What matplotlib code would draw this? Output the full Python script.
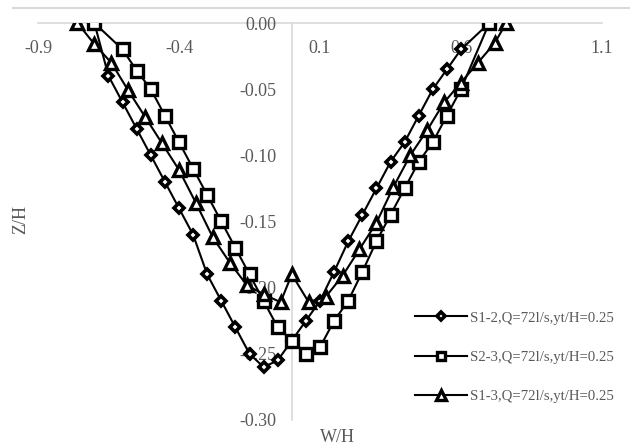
import matplotlib
matplotlib.use("Agg")
import matplotlib.pyplot as plt
from matplotlib.lines import Line2D

plt.rcParams['font.family'] = ['Liberation Serif', 'DejaVu Serif']

# Data
s12_x = [-0.70, -0.65, -0.60, -0.55, -0.50, -0.45, -0.40, -0.35, -0.30, -0.25, -0.20, -0.15, -0.10, -0.05,
         0.00, 0.05, 0.10, 0.15, 0.20, 0.25, 0.30, 0.35, 0.40, 0.45, 0.50, 0.55, 0.60, 0.70]
s12_y = [0.0, -0.040, -0.060, -0.080, -0.100, -0.120, -0.140, -0.160, -0.190, -0.210, -0.230, -0.250, -0.260, -0.255,
         -0.240, -0.225, -0.210, -0.188, -0.165, -0.145, -0.125, -0.105, -0.090, -0.070, -0.050, -0.035, -0.020, 0.0]

s23_x = [-0.70, -0.60, -0.55, -0.50, -0.45, -0.40, -0.35, -0.30, -0.25, -0.20, -0.15, -0.10, -0.05,
         0.00, 0.05, 0.10, 0.15, 0.20, 0.25, 0.30, 0.35, 0.40, 0.45, 0.50, 0.55, 0.60, 0.70]
s23_y = [0.0, -0.020, -0.036, -0.050, -0.070, -0.090, -0.110, -0.130, -0.150, -0.170, -0.190, -0.210, -0.230,
         -0.240, -0.250, -0.245, -0.225, -0.210, -0.188, -0.165, -0.145, -0.125, -0.105, -0.090, -0.070, -0.050, 0.0]

s13_x = [-0.76, -0.70, -0.64, -0.58, -0.52, -0.46, -0.40, -0.34, -0.28, -0.22, -0.16, -0.10, -0.04,
         0.00, 0.06, 0.12, 0.18, 0.24, 0.30, 0.36, 0.42, 0.48, 0.54, 0.60, 0.66, 0.72, 0.76]
s13_y = [0.0, -0.016, -0.030, -0.051, -0.071, -0.091, -0.111, -0.136, -0.162, -0.181, -0.198, -0.205, -0.211,
         -0.190, -0.211, -0.207, -0.191, -0.171, -0.151, -0.124, -0.100, -0.081, -0.060, -0.045, -0.030, -0.015, 0.0]

labels = ["S1-2,Q=72l/s,yt/H=0.25", "S2-3,Q=72l/s,yt/H=0.25", "S1-3,Q=72l/s,yt/H=0.25"]

x_ticks = [-0.9, -0.4, 0.1, 0.6, 1.1]
y_ticks = [0.00, -0.05, -0.10, -0.15, -0.20, -0.25, -0.30]

gray_text = "#595959"
axis_col = "#d9d9d9"

fig = plt.figure(figsize=(6.3, 4.45), dpi=100)
ax = fig.add_axes([0.0603, 0.0562, 0.8953, 0.8921])

ax.plot(s12_x, s12_y, color="black", lw=1.5, marker="D", markersize=5.5,
        markerfacecolor="white", markeredgecolor="black", markeredgewidth=2.6, label=labels[0])
ax.plot(s23_x, s23_y, color="black", lw=1.5, marker="s", markersize=8,
        markerfacecolor="white", markeredgecolor="black", markeredgewidth=2.4, label=labels[1])
ax.plot(s13_x, s13_y, color="black", lw=1.5, marker="^", markersize=8.5,
        markerfacecolor="white", markeredgecolor="black", markeredgewidth=2.4, label=labels[2])

ax.set_xlim(-0.9, 1.1)
ax.set_ylim(-0.30, 0.0)

for s in ["top", "right"]:
    ax.spines[s].set_visible(False)
ax.spines["bottom"].set_position(("data", 0))
ax.spines["left"].set_position(("data", 0))
for s in ["bottom", "left"]:
    ax.spines[s].set_color(axis_col)
    ax.spines[s].set_linewidth(1.2)
    ax.spines[s].set_zorder(0)

ax.set_xticks(x_ticks)
ax.set_xticklabels([f"{v:.1f}" for v in x_ticks])
ax.set_yticks(y_ticks)
ax.set_yticklabels([f"{v:.2f}" for v in y_ticks])
ax.tick_params(axis="x", length=0, pad=12, labelsize=13, labelcolor=gray_text)
ax.tick_params(axis="y", length=0, pad=11, labelsize=13, labelcolor=gray_text)

fig.text(21 / 630, 1 - 219 / 445, "Z/H", rotation=90, ha="center", va="center",
         fontsize=13, color=gray_text)
fig.text(337 / 630, 1 - 437 / 445, "W/H", ha="center", va="center",
         fontsize=13, color=gray_text)

# chart frame top edge
fig.add_artist(Line2D([13 / 630, 1.0], [1 - 8 / 445, 1 - 8 / 445], color=axis_col, lw=1.5))

leg = ax.legend(loc="center left", bbox_to_anchor=(415 / 630, 1 - 357 / 445),
                bbox_transform=fig.transFigure, frameon=False, fontsize=10.6,
                handlelength=3.5, handletextpad=0.25, labelspacing=1.75,
                borderpad=0, borderaxespad=0, markerscale=0.8)
for t in leg.get_texts():
    t.set_color(gray_text)

fig.savefig("out.png", dpi=100)
